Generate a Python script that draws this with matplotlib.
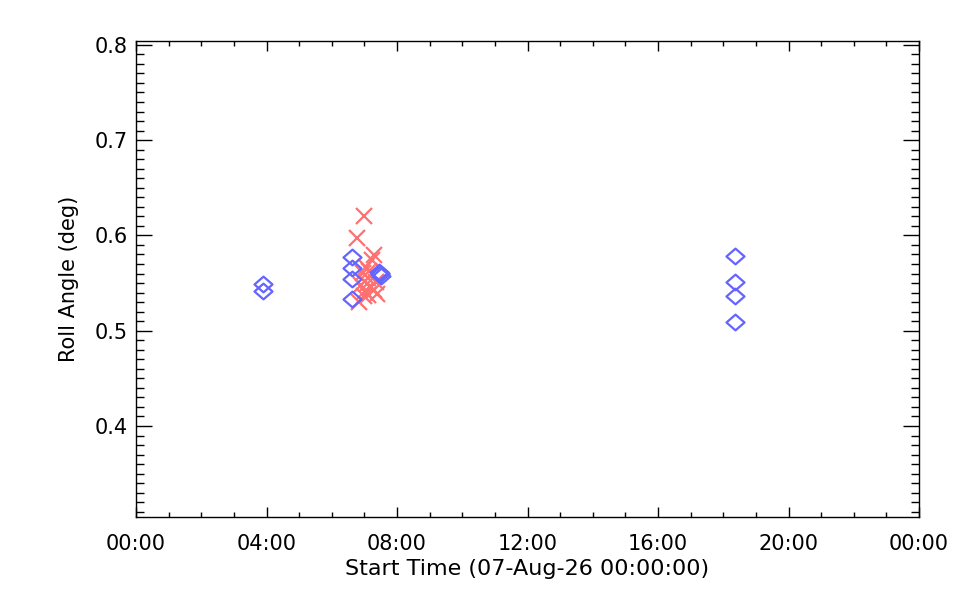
import matplotlib
matplotlib.use("Agg")
import matplotlib.pyplot as plt
from matplotlib.ticker import MultipleLocator, FuncFormatter
from matplotlib.path import Path

# Blue diamonds (hours since 07-Aug-26 00:00, roll angle deg)
diamond_hours = [3.89, 3.89, 6.62, 6.62, 6.62, 6.62, 7.47, 7.49, 7.51, 7.46,
                 18.36, 18.36, 18.36, 18.36]
diamond_roll = [0.549, 0.542, 0.577, 0.566, 0.554, 0.533, 0.561, 0.559, 0.557, 0.562,
                0.578, 0.551, 0.536, 0.509]

# Red crosses
cross_hours = [6.99, 6.78, 7.30, 7.23, 7.05, 6.95, 7.15, 7.10, 7.35, 6.90,
               7.20, 7.02, 7.40, 7.12, 6.84, 7.28, 6.98, 7.08]
cross_roll = [0.620, 0.597, 0.579, 0.574, 0.567, 0.561, 0.563, 0.555, 0.551, 0.548,
              0.546, 0.542, 0.538, 0.537, 0.530, 0.543, 0.536, 0.549]

x_label = "Start Time (07-Aug-26 00:00:00)"
y_label = "Roll Angle (deg)"

plt.rcParams['font.family'] = ['DejaVu Sans']

fig = plt.figure(figsize=(9.6, 6.0), dpi=100)
ax = fig.add_axes([136/960, 1-517/600, (919-136)/960, (517-41)/600])

diamond = Path([(-1, 0), (0, -0.87), (1, 0), (0, 0.87), (-1, 0)],
               [Path.MOVETO, Path.LINETO, Path.LINETO, Path.LINETO, Path.CLOSEPOLY])

ax.plot(cross_hours, cross_roll, linestyle='none', marker='x', markersize=11.5,
        markeredgewidth=1.6, color='#FF7070')
ax.plot(diamond_hours, diamond_roll, linestyle='none', marker=diamond, markersize=13,
        markeredgewidth=1.6, markerfacecolor='none', markeredgecolor='#6464FF')

ax.set_xlim(0, 24)
ax.set_ylim(0.3045, 0.804)

ax.xaxis.set_major_locator(MultipleLocator(4))
ax.xaxis.set_minor_locator(MultipleLocator(1))
ax.yaxis.set_major_locator(MultipleLocator(0.1))
ax.yaxis.set_minor_locator(MultipleLocator(0.01))

def hfmt(v, pos):
    h = int(round(v)) % 24
    return "%02d:00" % h

ax.xaxis.set_major_formatter(FuncFormatter(hfmt))
ax.yaxis.set_major_formatter(FuncFormatter(lambda v, p: "%.1f" % v))

for s in ax.spines.values():
    s.set_linewidth(1.0)
    s.set_color('black')

ax.tick_params(axis='x', which='major', direction='in', length=7.2, width=1.0,
               top=True, bottom=True, labelsize=15, pad=12)
ax.tick_params(axis='x', which='minor', direction='in', length=3.6, width=1.0,
               top=True, bottom=True)
ax.tick_params(axis='y', which='major', direction='in', length=11.5, width=1.0,
               left=True, right=True, labelsize=15, pad=6)
ax.tick_params(axis='y', which='minor', direction='in', length=5.8, width=1.0,
               left=True, right=True)

ax.set_xlabel(x_label, fontsize=16, labelpad=4)
ax.set_ylabel(y_label, fontsize=15, labelpad=11)

fig.savefig("out.png", dpi=100)
